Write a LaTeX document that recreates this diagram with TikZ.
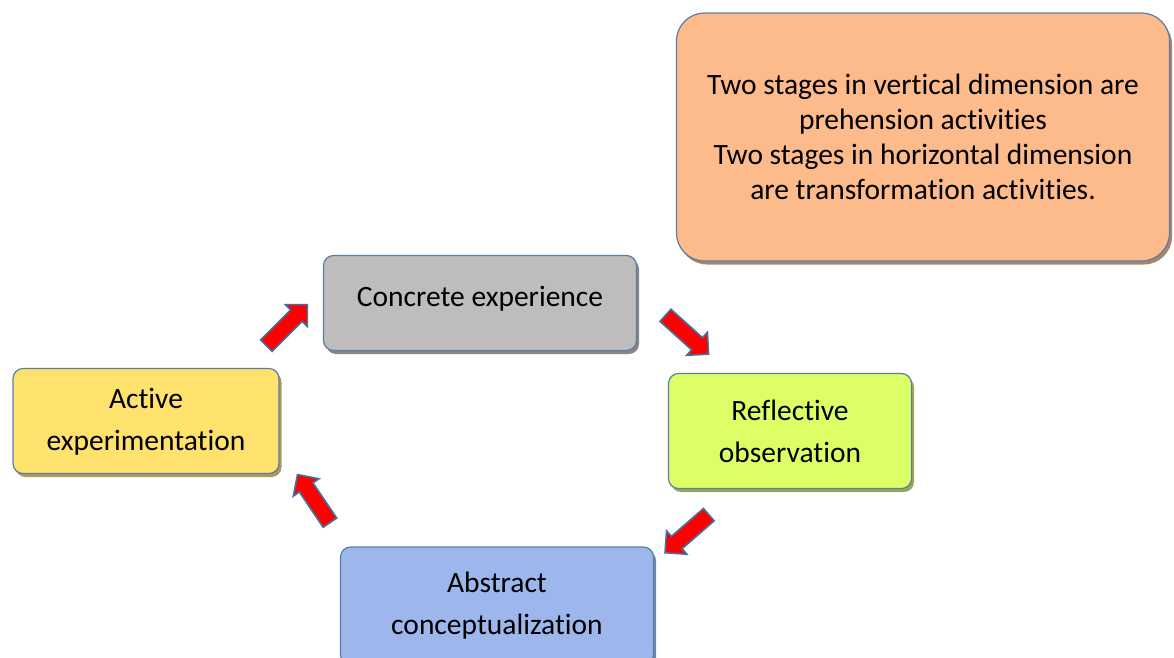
\documentclass[tikz,border=0pt]{standalone}
\usepackage{fontspec}
\setmainfont[Ligatures=NoCommon]{Carlito}
\usepackage{tikz}
\usetikzlibrary{shapes.arrows, shadows}

\definecolor{boxedge}{HTML}{5A7DA6}
\definecolor{arrowedge}{HTML}{41719C}
\definecolor{cegray}{HTML}{BFBCBC}
\definecolor{rogreen}{HTML}{DDFF66}
\definecolor{acblue}{HTML}{9DB7EC}
\definecolor{aeyellow}{HTML}{FFE26E}
\definecolor{noteorange}{HTML}{FDBB8C}

\begin{document}
\begin{tikzpicture}[
    x=1pt, y=-1pt,
    stage/.style={rectangle, draw=boxedge, line width=1.2pt, fill=#1, rounded corners=10pt, align=center,
        font=\fontsize{29.5}{42}\selectfont, inner sep=0pt,
        drop shadow={fill=#1!60!black, shadow xshift=2.5pt, shadow yshift=-3.5pt, opacity=0.85}},
    stage/.default={white},
    flow/.style={single arrow, draw=arrowedge, fill=red, line width=1.6pt, minimum height=58pt,
        minimum width=31pt, inner sep=7pt, single arrow head extend=7pt, rotate=#1},
    flow/.default={0}
]
\useasboundingbox (0,0) rectangle (1174,657);

% === ETAPAS DEL CICLO ===
\node[stage=cegray, minimum width=313pt, minimum height=95pt] (concrete) at (480,303) {\raisebox{14pt}{Concrete experience}};
\node[stage=rogreen, minimum width=243pt, minimum height=115pt] (reflect) at (790,431) {Reflective\\observation};
\node[stage=acblue, minimum width=313pt, minimum height=118pt] (abstract) at (497,606) {Abstract\\conceptualization};
\node[stage=aeyellow, minimum width=266pt, minimum height=105pt] (active) at (146,421) {\raisebox{6pt}{\begin{tabular}{c}Active\\experimentation\end{tabular}}};

% === NOTA ===
\node[stage=noteorange, rounded corners=28pt, minimum width=493pt, minimum height=248pt,
    font=\fontsize{29.5}{35}\selectfont] (note) at (923,137) {Two stages in vertical dimension are\\prehension activities\\Two stages in horizontal dimension\\are transformation activities.};

% === FLECHAS ===
\node[flow=45] (toconcrete) at (284,328) {};
\node[flow=-42] (toreflect) at (684,332) {};
\node[flow=-139] (toabstract) at (690,531) {};
\node[flow=124] (toactive) at (316,502) {};

\end{tikzpicture}
\end{document}
